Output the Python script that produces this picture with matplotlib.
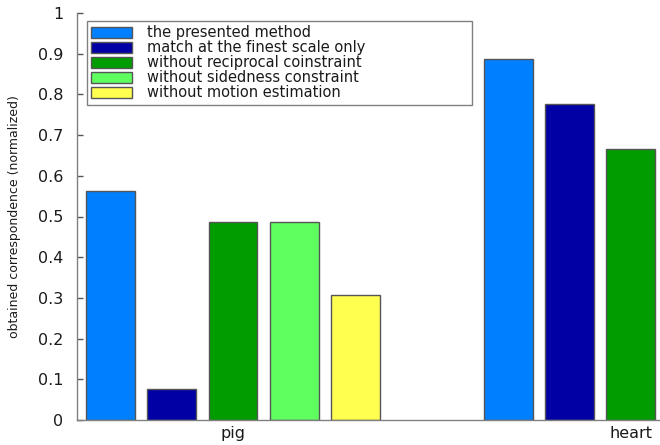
import numpy as np
import matplotlib
matplotlib.use("Agg")
import matplotlib.pyplot as plt

plt.rcParams['font.family'] = ['DejaVu Sans']

# Data
groups = ["pig", "heart"]
methods = [
    "the presented method",
    "match at the finest scale only",
    "without reciprocal coinstraint",
    "without sidedness constraint",
    "without motion estimation",
]
# rows: methods, columns: groups (pig, heart); heart values for the last two
# methods lie outside the plotted range and are left unset
pig_values = [0.563, 0.075, 0.486, 0.486, 0.306]
heart_values = [0.888, 0.776, 0.666, np.nan, np.nan]
colors = ["#0080ff", "#0000a4", "#009c00", "#60ff60", "#ffff50"]
yticks = [0, 0.1, 0.2, 0.3, 0.4, 0.5, 0.6, 0.7, 0.8, 0.9, 1]
ytick_labels = ["0", "0.1", "0.2", "0.3", "0.4", "0.5", "0.6", "0.7", "0.8", "0.9", "1"]

fig = plt.figure(figsize=(6.6, 4.45), dpi=100)
ax = fig.add_axes([77 / 660, 25 / 445, 583 / 660, 407 / 445])

n = len(methods)
group_x = np.arange(1, len(groups) + 1)
group_width = n / (n + 1.5)
step = group_width / n
bar_w = step * 0.8
values = np.array([pig_values, heart_values], dtype=float).T

for i in range(n):
    offs = (i - (n - 1) / 2) * step
    ax.bar(group_x + offs, values[i], width=bar_w, color=colors[i],
           edgecolor="#555555", linewidth=1.0, label=methods[i], zorder=2)

ax.set_xlim(0.608, 2.073)
ax.set_ylim(0, 1)
ax.set_yticks(yticks)
ax.set_yticklabels(ytick_labels)
ax.set_xticks(group_x)
ax.set_xticklabels(groups)

for side in ("top", "right"):
    ax.spines[side].set_visible(False)
for side in ("left", "bottom"):
    ax.spines[side].set_color("#808080")
    ax.spines[side].set_linewidth(1.0)

ax.tick_params(axis="y", direction="in", length=4, width=1, color="#555555",
               pad=10, labelsize=11.5, labelcolor="#1a1a1a")
ax.tick_params(axis="x", length=0, pad=4, labelsize=11.5, labelcolor="#1a1a1a")

ax.set_ylabel("obtained correspondence (normalized)", fontsize=9,
              color="#1a1a1a", labelpad=12)

leg = ax.legend(loc="upper left", bbox_to_anchor=(0.0172, 0.7715, 0.66, 0.2088),
                mode="expand", borderaxespad=0, fontsize=10.5, labelspacing=0.0,
                handlelength=2.8, handleheight=0.85, handletextpad=1.0,
                borderpad=0.3, fancybox=False, framealpha=1)
leg.get_frame().set_edgecolor("#808080")
leg.get_frame().set_linewidth(1.0)
for t in leg.get_texts():
    t.set_color("#1a1a1a")

fig.savefig("out.png", dpi=100)
